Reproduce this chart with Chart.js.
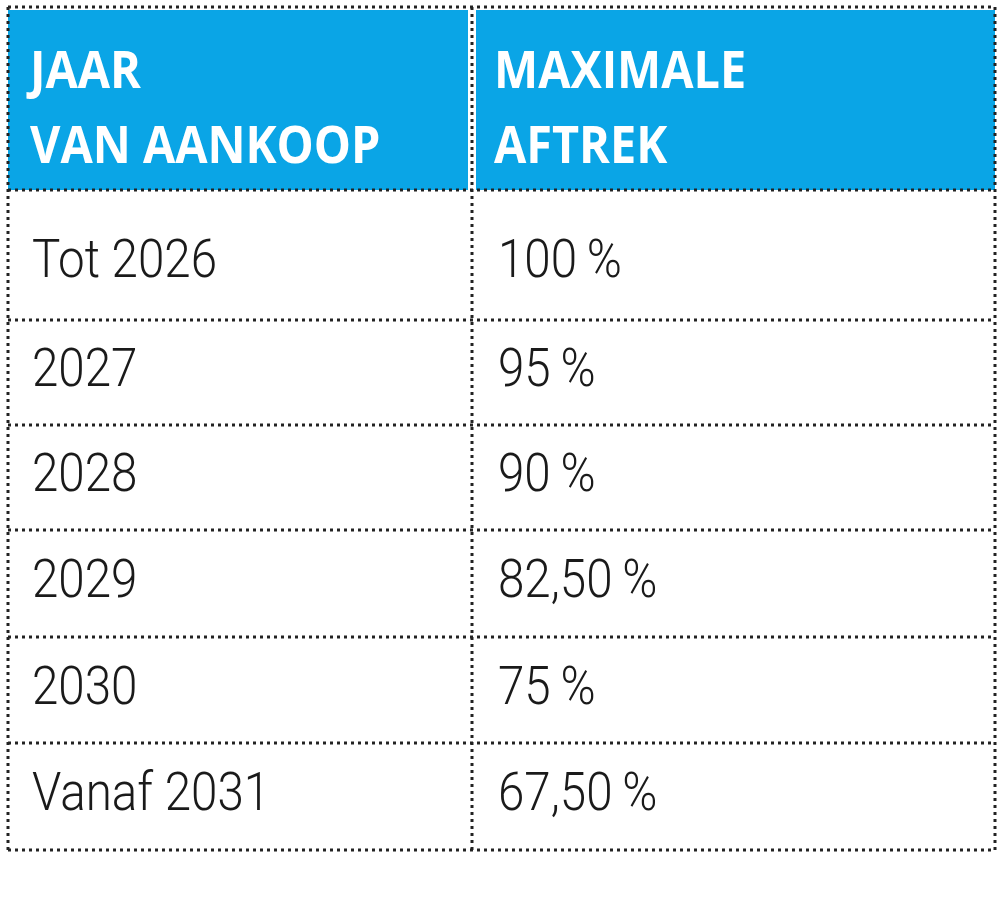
<!DOCTYPE html>
<html><head><meta charset="utf-8">
<script src="https://cdn.jsdelivr.net/npm/chart.js@4.4.0/dist/chart.umd.min.js"></script>
<style>html,body{margin:0;background:#fff}#wrap{width:1000px;height:901px}</style>
</head><body><div id="wrap"><canvas id="c"></canvas></div>
<script>
const headers = [['JAAR', 'VAN AANKOOP'], ['MAXIMALE', 'AFTREK']];
const years = ['Tot 2026', '2027', '2028', '2029', '2030', 'Vanaf 2031'];
const deductions = ['100\u2009%', '95\u2009%', '90\u2009%', '82,50\u2009%', '75\u2009%', '67,50\u2009%'];

// layout (pixel space of the chart scales)
const colEdges = [8, 472, 995];
const rowEdges = [10, 190, 320, 425, 530, 637, 743, 850];

function dotted(ctx, x1, y1, x2, y2) {
  ctx.save();
  ctx.strokeStyle = '#222';
  ctx.lineWidth = 3;
  ctx.setLineDash([3, 4]);
  ctx.beginPath(); ctx.moveTo(x1, y1); ctx.lineTo(x2, y2); ctx.stroke();
  ctx.restore();
}

const tablePlugin = {
  id: 'table',
  afterDraw(chart) {
    const ctx = chart.ctx, xs = chart.scales.x, ys = chart.scales.y;
    const X = v => xs.getPixelForValue(v), Y = v => ys.getPixelForValue(v);
    // header cells
    ctx.fillStyle = '#0aa5e6';
    ctx.fillRect(X(colEdges[0]), Y(rowEdges[0]), X(colEdges[1]) - X(colEdges[0]) - 4, Y(rowEdges[1]) - Y(rowEdges[0]));
    ctx.fillRect(X(colEdges[1]) + 4, Y(rowEdges[0]), X(colEdges[2]) - X(colEdges[1]) - 4, Y(rowEdges[1]) - Y(rowEdges[0]));
    ctx.fillStyle = '#fff';
    ctx.font = 'bold 52px "Open Sans"';
    ctx.textBaseline = 'alphabetic';
    headers.forEach((h, i) => {
      const x0 = X(colEdges[i]) + 22;
      [h[0], h[1]].forEach((t, j) => {
        ctx.save();
        ctx.translate(x0, Y(rowEdges[0]) + 78 + j * 75);
        ctx.scale(0.9, 1);
        ctx.fillText(t, 0, 0);
        ctx.restore();
      });
    });
    // body
    ctx.fillStyle = '#1a1a1a';
    ctx.font = '300 54px Roboto';
    ctx.textBaseline = 'middle';
    years.forEach((yr, i) => {
      const cy = (Y(rowEdges[i + 1]) + Y(rowEdges[i + 2])) / 2 + (i === 0 ? 8 : 0);
      [[yr, X(colEdges[0]) + 24], [deductions[i], X(colEdges[1]) + 26]].forEach(([t, x]) => {
        ctx.save();
        ctx.translate(x, cy);
        ctx.scale(0.88, 1);
        ctx.fillText(t, 0, 0);
        ctx.restore();
      });
    });
    // dotted grid
    const top = Y(rowEdges[0]) - 3, bot = Y(rowEdges[rowEdges.length - 1]);
    dotted(ctx, X(colEdges[0]), top, X(colEdges[2]), top);
    rowEdges.slice(1).forEach(r => dotted(ctx, X(colEdges[0]), Y(r), X(colEdges[2]), Y(r)));
    colEdges.forEach(c => dotted(ctx, X(c), top, X(c), bot));
  }
};

new Chart(document.getElementById('c'), {
  type: 'scatter',
  data: { datasets: [{ data: [] }] },
  options: {
    responsive: true, maintainAspectRatio: false, animation: false,
    layout: { padding: 0 },
    plugins: { legend: { display: false }, tooltip: { enabled: false } },
    scales: {
      x: { type: 'linear', min: 0, max: 1000, display: false },
      y: { type: 'linear', min: 0, max: 901, reverse: true, display: false }
    }
  },
  plugins: [tablePlugin]
});
</script></body></html>
